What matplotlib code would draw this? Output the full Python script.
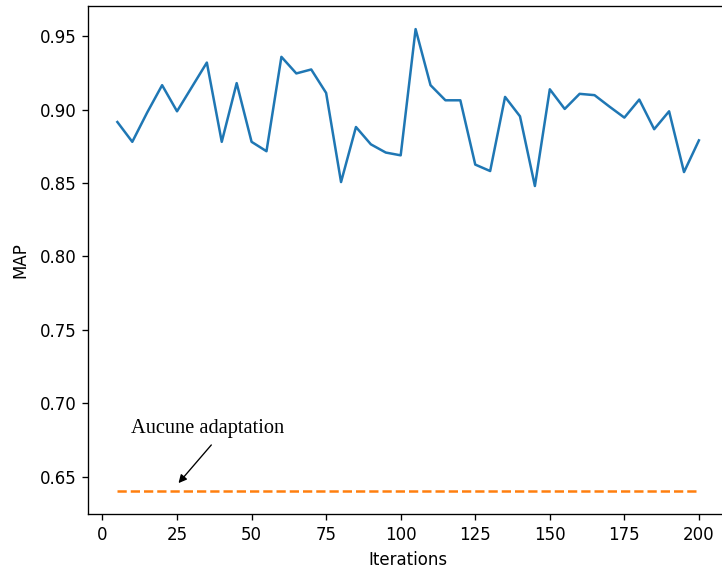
import matplotlib
matplotlib.use("Agg")
import matplotlib.pyplot as plt

iterations = list(range(5, 205, 5))
map_values = [0.8915, 0.878, 0.898, 0.9166, 0.8988, 0.9154, 0.932, 0.878, 0.918, 0.878,
              0.8716, 0.9359, 0.9246, 0.9273, 0.9113, 0.8506, 0.8881, 0.8763, 0.8707, 0.8688,
              0.9548, 0.9166, 0.9063, 0.9063, 0.8625, 0.8581, 0.9086, 0.8954, 0.8479, 0.9138,
              0.9004, 0.9107, 0.9098, 0.902, 0.8945, 0.9068, 0.8866, 0.8988, 0.8574, 0.879]
baseline_value = 0.64
baseline_label = "Aucune adaptation"

DPI = 120
fig = plt.figure(figsize=(722 / DPI, 571 / DPI), dpi=DPI)
ax = fig.add_axes([0.1223, 0.0993, 0.886, 0.8902])
ax.plot(iterations, map_values, color="#1f77b4", linewidth=1.5)
ax.plot(iterations, [baseline_value] * len(iterations), color="#ff7f0e", linestyle="--", linewidth=1.5)

ax.text(9.7, 0.6795, baseline_label, family="Liberation Serif", fontsize=12.2, ha="left", va="baseline")
ax.annotate("", xy=(25.5, 0.6455), xytext=(36.5, 0.6715),
            arrowprops=dict(arrowstyle="-|>", color="black", lw=0.8, mutation_scale=10,
                            shrinkA=0, shrinkB=0))

ax.set_xlabel("Iterations")
ax.set_ylabel("MAP", labelpad=6.5)

fig.savefig("out.png", dpi=DPI)
